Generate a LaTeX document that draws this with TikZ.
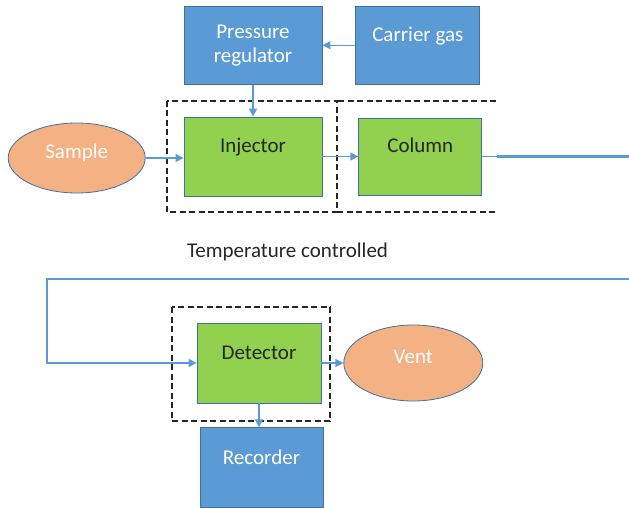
\documentclass[tikz,border=0pt]{standalone}
\usepackage{fontspec}
\setmainfont{Carlito}
\usepackage{tikz}
\usetikzlibrary{shapes.geometric, arrows.meta, positioning}
\definecolor{boxblue}{RGB}{91,155,213}
\definecolor{boxedge}{RGB}{65,113,156}
\definecolor{boxgreen}{RGB}{146,208,80}
\definecolor{boxorange}{RGB}{244,177,131}
\definecolor{inktext}{RGB}{38,38,38}

\begin{document}
\begin{tikzpicture}[
  x=1pt, y=-1pt,
  font=\fontsize{21}{24}\selectfont,
  unit/.style={rectangle, draw=boxedge, fill=boxblue, text=white, line width=0.8pt,
               minimum width=124pt, minimum height=78pt, align=center},
  stage/.style={rectangle, draw=boxedge, fill=boxgreen, text=inktext, line width=0.8pt,
                minimum width=124pt, minimum height=78pt, align=center},
  port/.style={ellipse, draw=boxedge, fill=boxorange, text=white, line width=0.8pt,
               inner sep=0pt, text height=10pt, text depth=10pt},
  raised/.style={text height=14pt, text depth=21pt},
  flow/.style={-{Triangle[length=8pt, width=8pt]}, line width=1.2pt, color=boxblue},
  pipe/.style={line width=2.2pt, color=boxblue},
  zone/.style={draw=black!85, line width=1.2pt, dash pattern=on 6pt off 3.5pt}
]
  \useasboundingbox (0,0) rectangle (629,508);

  \draw[zone] (167,101) rectangle (337,212);
  \draw[zone] (496,101) -- (337,101) (337,212) -- (496,212);
  \draw[zone] (172,307) rectangle (330,421);

  \node[stage, raised, minimum width=138pt, minimum height=79pt] (inj) at (253,156.5) {Injector};
  \node[unit, minimum width=138pt, above=32pt of inj] (pr) {Pressure\\regulator};
  \node[unit, raised, right=33pt of pr] (cg) {Carrier gas};
  \node[stage, raised, minimum width=123pt, minimum height=77pt, right=36pt of inj] (col) {Column};
  \node[port, minimum width=137pt, minimum height=70pt, left=38pt of inj, yshift=-1.5pt] (smp) {Sample};
  \node[text=inktext, anchor=base] (tc) at (287.5,257) {Temperature controlled};
  \node[stage, raised, minimum height=80pt] (det) at (259,363) {Detector};
  \node[unit, raised, minimum width=123pt, minimum height=80pt, below=24pt of det, xshift=2.5pt] (rec) {Recorder};
  \node[port, minimum width=139pt, minimum height=76pt, right=22pt of det] (vent) {Vent};

  \coordinate (bendR) at (640,279);
  \coordinate (bendL) at (47,279);
  \coordinate[left=25pt of det.west] (inlet);

  \draw[flow] (cg) -- (pr);
  \draw[flow] (pr) -- (inj);
  \draw[flow] (smp.east) -- (smp.east -| inj.west);
  \draw[flow] (inj) -- (col);
  \draw[boxblue, line width=1.2pt] (col.east) -- ++(15,0) coordinate (outlet);
  \draw[pipe] (outlet) -| (bendR) -- (bendL) |- (inlet);
  \draw[flow] (inlet) -- (det);
  \draw[flow] (det) -- (vent);
  \draw[flow] (det.south) -- (det.south |- rec.north);
\end{tikzpicture}
\end{document}
